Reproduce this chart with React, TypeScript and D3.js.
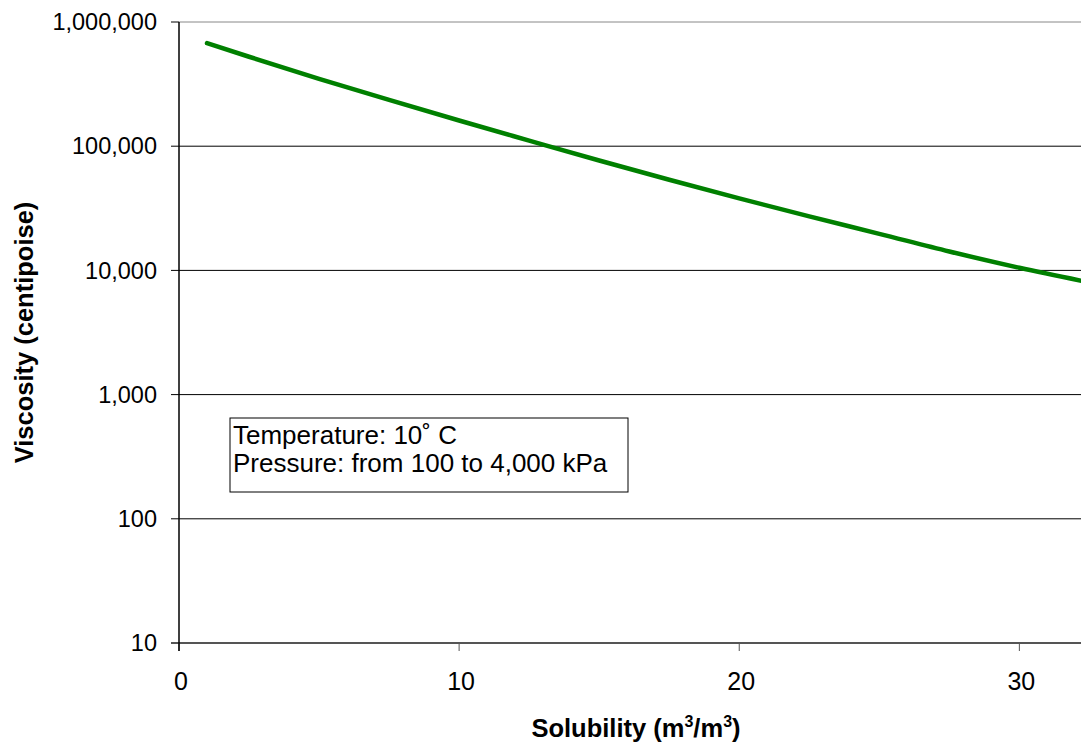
import React from 'react';
import * as d3 from 'd3';

// solubility (m3/m3) vs viscosity (cP)
const solubility = [1, 2.5, 5, 7.5, 10, 12.5, 15, 17.5, 20, 22.5, 25, 27.5, 30, 32.5];
const viscosity = [
  676000, 525000, 349000, 236000, 161000, 111000, 76700, 53700, 38000, 27200, 19700, 14200,
  10500, 8000,
];
const yTicks = [10, 100, 1000, 10000, 100000, 1000000];
const xTicks = [0, 10, 20, 30];
const noteLines = ['Temperature: 10˚ C', 'Pressure: from 100 to 4,000 kPa'];

const width = 1081;
const height = 744;
const margin = { top: 22, right: 0, bottom: 101, left: 179 };

export default function App() {
  const x = d3
    .scaleLinear()
    .domain([0, 32.2])
    .range([margin.left, width - margin.right]);
  const y = d3
    .scaleLog()
    .domain([10, 1000000])
    .range([height - margin.bottom, margin.top]);

  const points = solubility.map((s, i) => [s, viscosity[i]] as [number, number]);
  const line = d3
    .line<[number, number]>()
    .x((d) => x(d[0]))
    .y((d) => y(d[1]))
    .curve(d3.curveMonotoneX);

  const fmt = d3.format(',');
  const font = 'Arial, "Liberation Sans", sans-serif';
  const x0 = margin.left;
  const yBottom = height - margin.bottom;

  return (
    <svg
      width={width}
      height={height}
      style={{ position: 'absolute', left: 0, top: 0, background: '#fff' }}
      fontFamily={font}
    >
      <defs>
        <clipPath id="plot">
          <rect x={x0} y={margin.top} width={width - x0} height={yBottom - margin.top} />
        </clipPath>
      </defs>

      {/* horizontal gridlines + y ticks */}
      {yTicks.map((t, i) => (
        <g key={t}>
          {i > 0 && (
            <line
              x1={x0}
              x2={width}
              y1={y(t)}
              y2={y(t)}
              stroke={i === yTicks.length - 1 ? '#888' : '#000'}
              strokeWidth={1}
            />
          )}
          <line x1={x0 - 8} x2={x0} y1={y(t)} y2={y(t)} stroke="#000" />
          <text x={x0 - 22} y={y(t)} dy="0.35em" textAnchor="end" fontSize={23.5} fill="#000">
            {fmt(t)}
          </text>
        </g>
      ))}

      {/* x axis */}
      <line x1={x0 - 8} x2={width} y1={yBottom} y2={yBottom} stroke="#555" strokeWidth={2} />
      {xTicks.map((t) => (
        <g key={t}>
          <line x1={x(t)} x2={x(t)} y1={yBottom} y2={yBottom + 8} stroke="#555" />
          <text x={x(t) + 2} y={yBottom + 47} textAnchor="middle" fontSize={25} fill="#000">
            {t}
          </text>
        </g>
      ))}

      {/* y axis */}
      <line x1={x0} x2={x0} y1={margin.top} y2={yBottom + 8} stroke="#000" strokeWidth={1.5} />

      <path
        d={line(points) ?? ''}
        fill="none"
        stroke="#008000"
        strokeWidth={4.5}
        strokeLinecap="round"
        clipPath="url(#plot)"
      />

      {/* note box */}
      <rect x={230} y={418} width={398} height={74} fill="#fff" stroke="#000" strokeWidth={1} />
      {noteLines.map((l, i) => (
        <text key={l} x={233} y={444 + i * 28} fontSize={26} fill="#000">
          {l}
        </text>
      ))}

      {/* axis titles */}
      <text x={636} y={737} textAnchor="middle" fontSize={25.5} fontWeight="bold" fill="#000">
        Solubility (m<tspan dy={-10} fontSize={16}>3</tspan>
        <tspan dy={10}>/m</tspan>
        <tspan dy={-10} fontSize={16}>3</tspan>
        <tspan dy={10}>)</tspan>
      </text>
      <text
        transform={`translate(33,${(margin.top + yBottom) / 2}) rotate(-90)`}
        textAnchor="middle"
        fontSize={25.5}
        fontWeight="bold"
        fill="#000"
      >
        Viscosity (centipoise)
      </text>
    </svg>
  );
}
